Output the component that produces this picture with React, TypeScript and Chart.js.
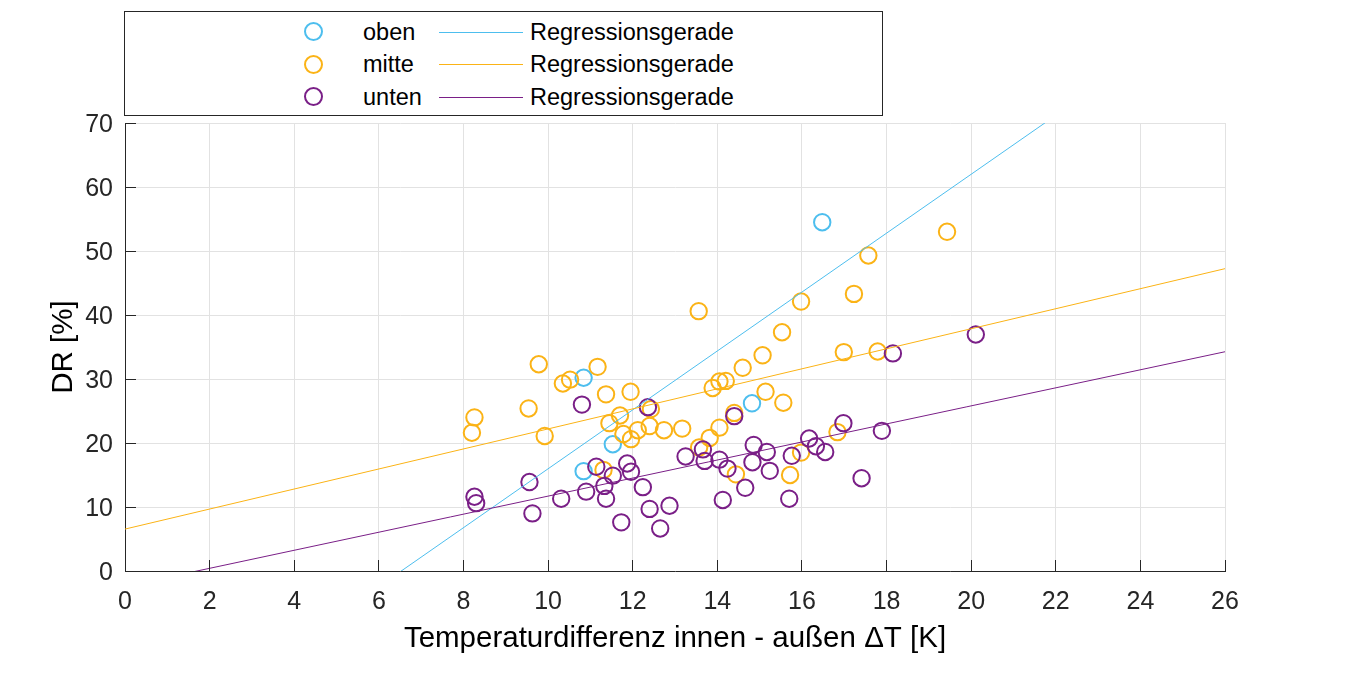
import React, { useEffect, useRef } from 'react';
import Chart from 'chart.js/auto';

// ---------- data ----------
const xTickStep = 2;
const xRange = [0, 26];
const yTickStep = 10;
const yRange = [0, 70];

const seriesNames = ['oben', 'mitte', 'unten'];
const regressionLabel = 'Regressionsgerade';
const xTitle = 'Temperaturdifferenz innen - außen ΔT [K]';
const yTitle = 'DR [%]';

const obenX = [10.84, 10.84, 11.53, 14.82, 16.48];
const obenY = [30.2, 15.6, 19.8, 26.2, 54.5];

const mitteX = [
  9.78, 10.35, 10.52, 11.17, 11.37, 9.54, 8.26, 8.2, 9.92, 11.45, 11.7, 11.31, 11.95, 13.89, 14.05,
  14.2, 12.43, 14.4, 12.4, 12.74, 13.17, 12.12, 11.78, 11.96, 14.05, 13.82, 13.57, 14.44, 13.56,
  15.98, 17.23, 15.53, 15.07, 14.6, 16.99, 17.79, 15.14, 15.56, 16.84, 15.98, 15.72, 17.57, 19.43,
];
const mitteY = [
  32.3, 29.3, 29.9, 31.9, 27.6, 25.4, 24.0, 21.6, 21.1, 23.1, 24.3, 15.8, 28.0, 28.6, 29.6,
  29.7, 25.3, 24.7, 22.65, 22.0, 22.25, 22.0, 21.4, 20.6, 22.4, 20.8, 19.3, 15.1, 40.6,
  42.1, 43.3, 37.3, 33.7, 31.75, 34.2, 34.3, 28.0, 26.3, 21.7, 18.5, 15.0, 49.3, 53.0,
];

const untenX = [
  10.8, 11.14, 9.56, 8.26, 8.3, 10.31, 10.9, 11.33, 11.37, 9.63, 11.73, 12.36, 14.4, 13.25,
  13.66, 13.7, 14.05, 14.24, 14.86, 14.83, 14.66, 14.13, 11.87, 11.96, 11.53, 12.24, 12.87,
  12.4, 12.65, 16.98, 17.89, 16.17, 16.33, 16.55, 15.76, 15.17, 15.24, 15.7, 17.41, 18.15, 20.11,
];
const untenY = [
  26.0, 16.3, 13.9, 11.6, 10.6, 11.3, 12.4, 13.3, 11.3, 9.0, 7.6, 25.6, 24.2, 17.9,
  19.0, 17.2, 17.4, 16.0, 19.7, 17.0, 13.0, 11.1, 16.8, 15.5, 14.9, 13.1, 10.2,
  9.7, 6.65, 23.1, 21.9, 20.7, 19.5, 18.6, 18.0, 18.6, 15.65, 11.3, 14.5, 34.0, 36.95,
];

// regression coefficients [slope, intercept]
const obenFit = [4.602, -30.05];
const mitteFit = [1.565, 6.55];
const untenFit = [1.41, -2.4];

const colors = ['#4DBEEE', '#FBB316', '#7A1F87'];

// ---------- helpers ----------
const toPoints = (xs: number[], ys: number[]) => xs.map((x, i) => ({ x, y: ys[i] }));
const fitLine = (fit: number[]) => [
  { x: xRange[0], y: fit[1] + fit[0] * xRange[0] },
  { x: xRange[1], y: fit[1] + fit[0] * xRange[1] },
];

const FONT = '"Liberation Sans", Arial, Helvetica, sans-serif';

const alignPx = (p: number) => Math.round(p - 0.5) + 0.5;

const inwardTicks = {
  id: 'inwardTicks',
  afterDraw(chart: any) {
    const { ctx, chartArea, scales } = chart;
    const xs = scales.x;
    const ys = scales.y;
    const len = 11;
    ctx.save();
    ctx.strokeStyle = '#262626';
    ctx.lineWidth = 1;
    ctx.beginPath();
    xs.ticks.forEach((t: any) => {
      const px = alignPx(xs.getPixelForValue(t.value));
      ctx.moveTo(px, chartArea.bottom);
      ctx.lineTo(px, chartArea.bottom - len);
    });
    ys.ticks.forEach((t: any) => {
      const py = alignPx(ys.getPixelForValue(t.value));
      ctx.moveTo(chartArea.left, py);
      ctx.lineTo(chartArea.left + len, py);
    });
    ctx.stroke();
    ctx.restore();
  },
};

export default function App() {
  const canvasRef = useRef<HTMLCanvasElement | null>(null);

  useEffect(() => {
    document.body.style.margin = '0';
    const canvas = canvasRef.current;
    if (!canvas) return;
    const scatterDs = (label: string, data: any[], color: string, order: number) => ({
      type: 'scatter' as const,
      label,
      data,
      borderColor: color,
      backgroundColor: 'rgba(0,0,0,0)',
      pointStyle: 'circle',
      pointRadius: 8.2,
      pointHoverRadius: 8.2,
      pointBorderWidth: 2,
      borderWidth: 2,
      showLine: false,
      order,
    });
    const lineDs = (data: any[], color: string, order: number) => ({
      type: 'line' as const,
      label: regressionLabel,
      data,
      borderColor: color,
      backgroundColor: color,
      borderWidth: 1,
      pointRadius: 0,
      pointHoverRadius: 0,
      fill: false,
      tension: 0,
      order,
    });

    const chart = new Chart(canvas, {
      type: 'scatter',
      data: {
        datasets: [
          scatterDs(seriesNames[0], toPoints(obenX, obenY), colors[0], 5),
          scatterDs(seriesNames[1], toPoints(mitteX, mitteY), colors[1], 4),
          scatterDs(seriesNames[2], toPoints(untenX, untenY), colors[2], 3),
          lineDs(fitLine(obenFit), colors[0], 2),
          lineDs(fitLine(mitteFit), colors[1], 1),
          lineDs(fitLine(untenFit), colors[2], 0),
        ] as any,
      },
      options: {
        animation: false,
        responsive: false,
        devicePixelRatio: 1,
        events: [],
        layout: { padding: { top: 123, right: 131, left: 0, bottom: 0 } },
        plugins: {
          legend: { display: false },
          tooltip: { enabled: false },
        },
        scales: {
          x: {
            type: 'linear',
            min: xRange[0],
            max: xRange[1],
            afterFit: (s: any) => {
              s.height = 107;
            },
            ticks: {
              stepSize: xTickStep,
              autoSkip: false,
              maxRotation: 0,
              color: '#262626',
              padding: 16,
              font: { family: FONT, size: 25 },
            },
            grid: { color: '#E2E2E2', lineWidth: 1, drawTicks: false },
            border: { color: '#262626', width: 1 },
            title: {
              display: true,
              text: xTitle,
              color: '#000000',
              font: { family: FONT, size: 29.5 },
              padding: { top: 0, bottom: 21 },
            },
          },
          y: {
            type: 'linear',
            min: yRange[0],
            max: yRange[1],
            afterFit: (s: any) => {
              s.width = 125;
            },
            ticks: {
              stepSize: yTickStep,
              color: '#262626',
              padding: 12,
              labelOffset: 2,
              font: { family: FONT, size: 25 },
            },
            grid: { color: '#E2E2E2', lineWidth: 1, drawTicks: false },
            border: { color: '#262626', width: 1 },
            title: {
              display: true,
              text: yTitle,
              color: '#000000',
              font: { family: FONT, size: 29.5 },
              padding: { top: 46, bottom: 0 },
            },
          },
        },
      } as any,
      plugins: [inwardTicks],
    });
    return () => chart.destroy();
  }, []);

  const rowCenters = [31.5, 64, 96.5];
  const legendFont = 23.5;

  return (
    <div
      style={{
        position: 'fixed',
        left: 0,
        top: 0,
        width: 1356,
        height: 678,
        background: '#ffffff',
        fontFamily: FONT,
      }}
    >
      <canvas ref={canvasRef} width={1356} height={678} style={{ position: 'absolute', left: 0, top: 0 }} />
      <div
        style={{
          position: 'absolute',
          left: 124,
          top: 11,
          width: 759,
          height: 105,
          boxSizing: 'border-box',
          border: '1px solid #262626',
          background: '#ffffff',
        }}
      />
      {seriesNames.map((name, i) => (
        <React.Fragment key={name}>
          <div
            style={{
              position: 'absolute',
              left: 313 - 9.5,
              top: rowCenters[i] - 9.5,
              width: 19,
              height: 19,
              boxSizing: 'border-box',
              borderRadius: '50%',
              border: `2px solid ${colors[i]}`,
            }}
          />
          <div
            style={{
              position: 'absolute',
              left: 363,
              top: rowCenters[i] - 15,
              height: 30,
              lineHeight: '30px',
              fontSize: legendFont,
              color: '#000',
              whiteSpace: 'nowrap',
            }}
          >
            {name}
          </div>
          <div
            style={{
              position: 'absolute',
              left: 439,
              top: Math.round(rowCenters[i]),
              width: 84,
              height: 1,
              background: colors[i],
            }}
          />
          <div
            style={{
              position: 'absolute',
              left: 530,
              top: rowCenters[i] - 15,
              height: 30,
              lineHeight: '30px',
              fontSize: legendFont,
              color: '#000',
              whiteSpace: 'nowrap',
            }}
          >
            {regressionLabel}
          </div>
        </React.Fragment>
      ))}
    </div>
  );
}
